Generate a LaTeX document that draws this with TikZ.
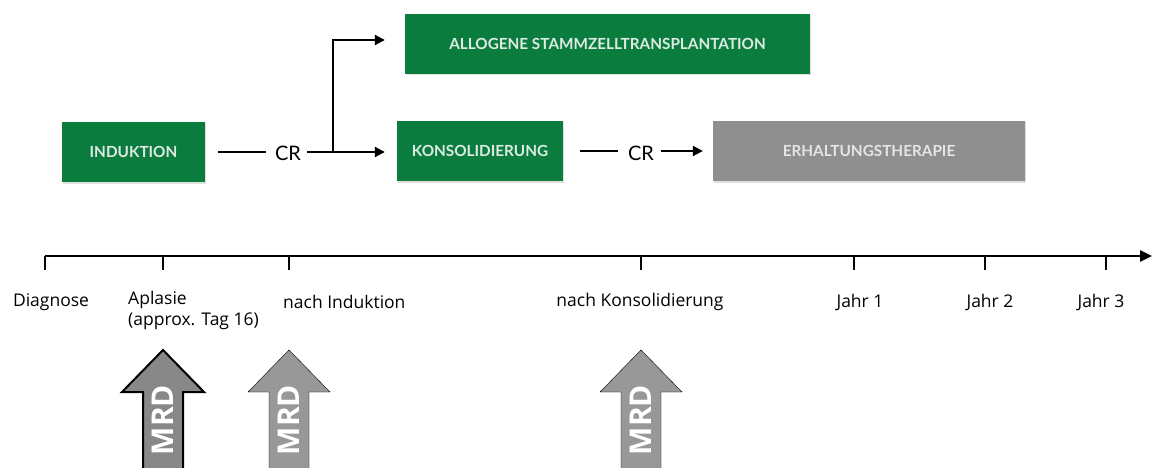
\documentclass[tikz,border=0pt]{standalone}
\usepackage{fontspec}
\setmainfont{Open Sans}
\newfontfamily\boxfont{Lato}
\usetikzlibrary{arrows.meta,shadows}
\definecolor{therapygreen}{RGB}{10,124,62}
\definecolor{therapygray}{RGB}{143,143,143}
\definecolor{mrdgray}{RGB}{152,152,152}
\definecolor{boxtext}{RGB}{222,235,227}
\def\mrdarrow[#1](#2)#3{\begin{scope}[shift={(#2)}]
  \draw[#1] (-20,120) -- (-20,42) -- (-41,42) -- (0,0) -- (41,42) -- (20,42) -- (20,120);
  \node[mrdlabel] (#3) at (0,70) {MRD};
\end{scope}}

\tikzset{
  phase/.style={fill=therapygreen, text=boxtext, inner sep=0pt, minimum height=60,
    font=\boxfont\bfseries\fontsize{15.3}{17}\selectfont,
    drop shadow={opacity=0.25, shadow xshift=1pt, shadow yshift=-1.5pt}},
  maint/.style={phase, fill=therapygray, text=white!90!black},
  remission/.style={inner sep=0pt, font=\boxfont\fontsize{20}{22}\selectfont},
  flow/.style={line width=2pt},
  timeline/.style={line width=2.6pt, -{Triangle[length=12pt,width=11pt]}},
  tick/.style={line width=1.8pt},
  point/.style={font=\fontsize{17.5}{21}\selectfont, align=left, inner sep=0pt},
  mrdlabel/.style={text=white, rotate=90, inner sep=0pt, font=\bfseries\fontsize{30}{30}\selectfont},
}

\begin{document}
\begin{tikzpicture}[x=1pt, y=-1pt]
		%%%%% START %%%%%
		\useasboundingbox[fill=white] (0,0) rectangle (1153,468);
		
		% therapy phases
		\node[phase, minimum width=143] (indu) at (133.5,152) {INDUKTION};
		\node[phase, minimum width=405] (allo) at (607.5,44) {ALLOGENE STAMMZELLTRANSPLANTATION};
		\node[phase, minimum width=166] (kons) at (480,151) {KONSOLIDIERUNG};
		\node[maint, minimum width=312] (erh) at (869,151) {ERHALTUNGSTHERAPIE};
		
		\node[remission] (cr1) at (288,153) {CR};
		\node[remission] (cr2) at (641,153) {CR};
		\coordinate (split) at (333,152);
		
		\draw[flow, shorten <=13pt, shorten >=9pt] (indu.east) -- (indu.east -| cr1.west);
		\draw[flow, -{Triangle[length=10pt,width=10pt]}, shorten <=6pt, shorten >=12pt] (split -| cr1.east) -- (split -| kons.west);
		\draw[flow, -{Triangle[length=10pt,width=10pt]}, shorten >=20pt] (split) |- ([yshift=4pt]allo.west);
		\draw[flow, shorten <=17pt, shorten >=10pt] (kons.east) -- (kons.east -| cr2.west);
		\draw[flow, -{Triangle[length=10pt,width=10pt]}, shorten <=7pt, shorten >=10pt] (kons.east -| cr2.east) -- (kons.east -| erh.west);
		
		% time axis
		\coordinate (start) at (45,256);
		\coordinate (end) at (1152,256);
		\draw[timeline] (start) -- (end);
		\foreach \x in {45,163,289,641,854,985,1106}
			\draw[tick] (\x,256) -- (\x,270);
		
		\node[point] (diag) at (51,302) {Diagnose};
		\node[point, anchor=north west] (apl) at (128,291) {Aplasie\\(approx. Tag 16)};
		\node[point, anchor=west] (ind) at (283,302) {nach Induktion};
		\node[point] (kon) at (640,302) {nach Konsolidierung};
		\node[point] (y1) at (860,302) {Jahr 1};
		\node[point] (y2) at (990,302) {Jahr 2};
		\node[point] (y3) at (1101,302) {Jahr 3};
		
		% MRD time points
		\mrdarrow[fill=therapygray!95!black, draw=black, line width=2pt, line join=miter](163,350){mrd1}
		\mrdarrow[fill=mrdgray](289,350){mrd2}
		\mrdarrow[fill=mrdgray](641,350){mrd3}
		
		%%%%% END %%%%%
	\end{tikzpicture}
\end{document}
